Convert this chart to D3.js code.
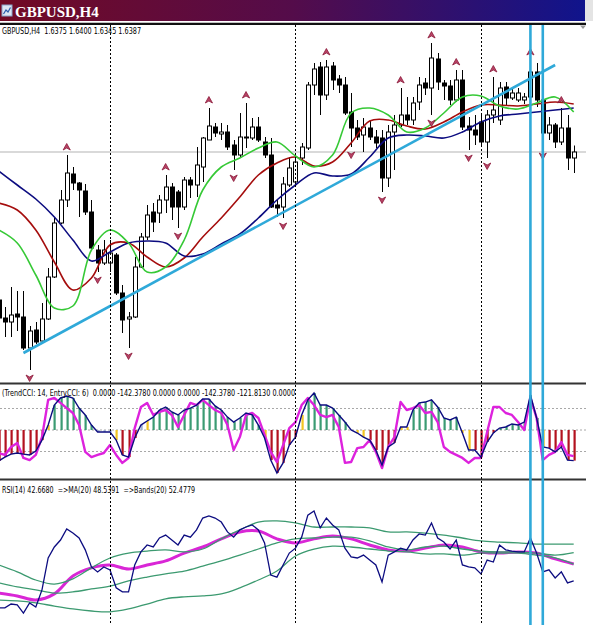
<!DOCTYPE html>
<html>
<head>
<meta charset="utf-8">
<script src="https://cdn.jsdelivr.net/npm/d3@7"></script>
<style>
  body { margin: 0; background: #fff; }
  svg { display: block; }
  text { white-space: pre; }
</style>
</head>
<body>
<svg id="chart"></svg>
<script>
const W = 593, H = 625;

// ---- candles (GBPUSD H4) ----
const openP  = [1.6091,1.6055,1.6047,1.6063,1.6057,1.5995,1.6031,1.6009,1.6053,1.6137,1.6245,1.6291,1.6343,1.6325,1.6309,1.6267,1.6191,1.6165,1.6165,1.6181,1.6105,1.6053,1.6057,1.6157,1.6217,1.6267,1.6265,1.6291,1.6317,1.6307,1.6277,1.6331,1.6321,1.6357,1.6411,1.6437,1.6423,1.6427,1.6401,1.6381,1.6415,1.6415,1.6437,1.6407,1.6381,1.6281,1.6277,1.6321,1.6327,1.6375,1.6395,1.6521,1.6557,1.6501,1.6559,1.6533,1.6521,1.6467,1.6435,1.6421,1.6435,1.6417,1.6415,1.6335,1.6427,1.6441,1.6461,1.6451,1.6487,1.6525,1.6515,1.6573,1.6525,1.6519,1.6491,1.6531,1.6439,1.6431,1.6447,1.6407,1.6461,1.6451,1.6517,1.6495,1.6491,1.6491,1.6497,1.6547,1.6491,1.6425,1.6441,1.6407,1.6435,1.6375];
const highP  = [1.6101,1.6077,1.6117,1.6109,1.6109,1.6039,1.6047,1.6085,1.6155,1.6255,1.6311,1.6381,1.6357,1.6327,1.6323,1.6291,1.6201,1.6211,1.6211,1.6185,1.6121,1.6067,1.6177,1.6225,1.6281,1.6285,1.6301,1.6341,1.6325,1.6311,1.6337,1.6337,1.6397,1.6417,1.6475,1.6445,1.6445,1.6441,1.6411,1.6465,1.6485,1.6455,1.6457,1.6417,1.6415,1.6291,1.6337,1.6377,1.6381,1.6405,1.6527,1.6565,1.6567,1.6571,1.6567,1.6541,1.6537,1.6505,1.6451,1.6455,1.6451,1.6431,1.6431,1.6441,1.6461,1.6515,1.6497,1.6497,1.6537,1.6535,1.6605,1.6585,1.6531,1.6531,1.6551,1.6551,1.6457,1.6461,1.6461,1.6471,1.6537,1.6527,1.6527,1.6515,1.6515,1.6505,1.6571,1.6565,1.6495,1.6457,1.6445,1.6475,1.6461,1.6400];
const lowP   = [1.6037,1.6017,1.6017,1.6029,1.5991,1.5951,1.6003,1.6007,1.6051,1.6135,1.6243,1.6277,1.6311,1.6257,1.6261,1.6191,1.6147,1.6161,1.6147,1.6101,1.6025,1.5995,1.6055,1.6155,1.6211,1.6227,1.6245,1.6265,1.6251,1.6235,1.6271,1.6295,1.6297,1.6327,1.6411,1.6417,1.6411,1.6391,1.6351,1.6375,1.6395,1.6411,1.6407,1.6375,1.6275,1.6257,1.6255,1.6317,1.6321,1.6361,1.6391,1.6501,1.6461,1.6491,1.6511,1.6505,1.6461,1.6397,1.6411,1.6387,1.6411,1.6395,1.6307,1.6317,1.6351,1.6437,1.6441,1.6441,1.6471,1.6501,1.6461,1.6511,1.6491,1.6481,1.6487,1.6431,1.6391,1.6401,1.6401,1.6375,1.6445,1.6441,1.6481,1.6491,1.6487,1.6483,1.6491,1.6477,1.6395,1.6411,1.6395,1.6401,1.6351,1.6345];
const closeP = [1.6055,1.6047,1.6061,1.6057,1.5995,1.6029,1.6007,1.6053,1.6137,1.6245,1.6291,1.6345,1.6325,1.6311,1.6267,1.6195,1.6165,1.6191,1.6185,1.6105,1.6051,1.6057,1.6157,1.6217,1.6261,1.6247,1.6291,1.6317,1.6277,1.6277,1.6331,1.6321,1.6361,1.6415,1.6439,1.6425,1.6427,1.6397,1.6381,1.6417,1.6417,1.6437,1.6411,1.6381,1.6277,1.6275,1.6323,1.6355,1.6367,1.6397,1.6521,1.6553,1.6501,1.6557,1.6531,1.6521,1.6465,1.6435,1.6417,1.6437,1.6417,1.6405,1.6335,1.6427,1.6441,1.6461,1.6451,1.6485,1.6521,1.6515,1.6575,1.6527,1.6519,1.6491,1.6531,1.6437,1.6431,1.6421,1.6407,1.6461,1.6471,1.6515,1.6495,1.6505,1.6505,1.6497,1.6547,1.6491,1.6425,1.6441,1.6407,1.6435,1.6375,1.6387];

const bidPrice = 1.6387;

// fractal bars
const fractalUp   = [11, 27, 34, 40, 53, 65, 70, 74, 80, 86, 91];
const fractalDown = [5, 16, 21, 29, 38, 46, 57, 62, 70, 76, 79, 88];

// moving averages, sampled every 3 bars
const maIdx   = [0,3,6,9,12,15,18,21,24,27,30,33,36,39,42,45,48,51,54,57,60,63,66,69,72,75,78,81,84,87,90,93];
const maGreen = [1.6231,1.6205,1.6141,1.6075,1.6079,1.6191,1.6231,1.6205,1.6147,1.6157,1.6211,1.6311,1.6357,1.6375,1.6395,1.6407,1.6379,1.6357,1.6381,1.6465,1.6475,1.6461,1.6427,1.6435,1.6465,1.6497,1.6499,1.6479,1.6473,1.6485,1.6497,1.6467];
const maRed   = [1.6285,1.6271,1.6231,1.6167,1.6111,1.6135,1.6201,1.6205,1.6177,1.6157,1.6175,1.6217,1.6255,1.6297,1.6341,1.6365,1.6377,1.6359,1.6367,1.6405,1.6449,1.6451,1.6439,1.6433,1.6447,1.6467,1.6481,1.6481,1.6479,1.6483,1.6487,1.6483];
const maNavy  = [1.6349,1.6321,1.6293,1.6257,1.6211,1.6169,1.6187,1.6205,1.6209,1.6205,1.6179,1.6183,1.6203,1.6223,1.6255,1.6291,1.6321,1.6345,1.6339,1.6343,1.6377,1.6415,1.6421,1.6419,1.6415,1.6427,1.6447,1.6459,1.6463,1.6467,1.6471,1.6475];

// drawn objects
const trendLine = [[4, 1.5985], [90, 1.6561]];
const vLines = [86, 88];
const separators = [18, 48, 78];

// CCI panel
const trendCci = [-144,-126,-112,-107,-112,-116,-98,-47,23,116,149,158,149,102,70,23,-9,-9,-9,-47,-116,-126,-37,23,42,60,93,107,84,70,93,102,116,144,144,112,93,60,37,56,79,70,23,-37,-140,-200,-153,-70,-33,70,140,172,116,116,102,70,37,0,-14,-33,-47,-93,-163,-79,-60,14,14,93,126,130,140,107,56,47,60,-14,-93,-93,-126,-56,-14,9,14,28,23,37,163,56,-79,-84,-102,-79,-140,-142.378];
const entryCci = [-107,-116,-79,-60,-130,-140,-116,-33,140,149,126,102,79,23,-102,-126,-116,-107,-70,-116,-153,-130,9,107,126,70,84,93,70,14,70,126,116,140,116,93,79,23,-93,-33,70,79,56,-23,-102,-149,-70,9,37,116,149,116,70,60,70,14,-153,-149,-84,-79,-47,-102,-177,-79,-33,130,93,102,116,79,84,37,-79,-102,-116,-130,-153,-130,-130,-9,107,107,79,70,37,0,149,56,-140,-116,-102,-56,-116,-121.813];
// histogram colour runs: r = down, g = up, y = turning, b = flat
const histRuns = [["r",8],["y",1],["g",7],["b",3],["y",1],["r",3],["b",1],["y",1],["g",18],["y",1],["r",5],["y",1],["g",7],["b",1],["y",2],["r",5],["y",2],["g",8],["y",2],["r",4],["g",7],["y",1],["r",5]];
const cciLevels = [100, 0, -100];

// RSI panel
const rsi = [33.4,33.4,34.7,34.4,31.6,35.1,33.7,39.6,50.6,54.4,56.8,60.6,59.2,57.5,53.4,47.5,45.8,47.5,46.5,40.3,38.9,38.9,48.2,52.7,55.1,54.4,57.5,58.5,56.8,55.1,58.5,57.8,60.3,64.4,65.1,64.4,63.0,59.6,57.8,60.3,61.3,62.0,60.3,55.8,44.7,44.0,48.2,52.3,54.0,57.8,65.4,66.8,61.0,64.4,62.0,60.3,54.0,51.0,50.6,51.6,49.9,48.2,42.3,51.6,52.7,54.0,53.4,56.8,58.9,58.5,62.7,57.5,56.1,53.7,56.8,48.2,47.5,47.2,45.1,49.9,49.2,55.1,53.4,53.0,52.7,52.7,57.5,52.3,45.8,46.5,43.7,45.8,42.0,42.668];
const rsiMa     = [38.5,37.5,36.1,38.2,44.4,47.2,48.2,46.8,48.2,49.6,52.3,54.4,57.2,59.6,59.9,57.2,55.8,57.2,58.2,57.2,55.1,53.4,53.0,54.0,55.1,54.4,52.7,52.3,52.7,52.3,50.3,48.539];
const bandUpper = [48.2,45.8,43.0,41.6,43.4,47.2,50.6,52.3,53.0,53.4,52.7,53.7,57.2,60.3,63.0,63.4,62.7,61.3,61.3,61.3,61.0,59.6,59.6,59.2,58.5,57.5,56.5,56.1,55.8,55.4,55.4,55.4];
const bandMid   = [42.0,40.6,39.6,38.5,38.9,39.9,40.9,42.7,44.0,45.1,46.1,47.8,49.6,51.6,53.7,55.8,57.2,57.5,57.8,57.8,56.5,54.4,53.4,54.4,54.7,53.7,53.0,52.7,52.7,52.3,51.6,52.478];
const bandLower = [36.1,35.8,35.1,34.0,33.0,32.3,32.0,33.0,34.7,36.5,37.2,37.5,38.2,40.3,43.0,46.1,51.3,53.7,54.7,54.4,53.7,53.0,52.7,52.0,52.0,51.6,52.3,52.3,52.3,51.6,50.6,48.5];

// labels
const titleText = "GBPUSD,H4";
const mainLabel = "GBPUSD,H4  1.6375 1.6400 1.6345 1.6387";
const cciLabel  = "(TrendCCI: 14, EntryCCI: 6)  0.0000 -142.3780 0.0000 0.0000 -142.3780 -121.8130 0.0000";
const rsiLabel  = "RSI(14) 42.6680  =>MA(20) 48.5391  =>Bands(20) 52.4779";

// ---- layout ----
const right = 586;
const panels = {
  main: { top: 25, bottom: 382 },
  cci:  { top: 385, bottom: 477 },
  rsi:  { top: 481, bottom: 625 }
};
const histColor = { r: "#b3121f", g: "#3b9b73", y: "#f2c523", b: "#9fb0d2" };
const cyan = "#2fa9d9";

const nBars = openP.length;
const x = d3.scaleLinear().domain([0, nBars - 1]).range([-1.3, 573.7]);
const yP = d3.scaleLinear().domain([1.5927, 1.6641]).range([382, 25]);
const yC = d3.scaleLinear().domain([-200, 200]).range([473, 387]);
const yR = d3.scaleLinear().domain([28.5, 72]).range([622, 496]);

const svg = d3.select("#chart").attr("width", W).attr("height", H)
  .style("font-family", "Tahoma, 'DejaVu Sans', sans-serif");
const defs = svg.append("defs");

svg.append("rect").attr("width", W).attr("height", H).attr("fill", "#fff");

// title bar
const grad = defs.append("linearGradient").attr("id", "titleGrad");
grad.append("stop").attr("offset", "0%").attr("stop-color", "#720a24");
grad.append("stop").attr("offset", "50%").attr("stop-color", "#540c4a");
grad.append("stop").attr("offset", "100%").attr("stop-color", "#10148c");
svg.append("rect").attr("x", 0).attr("y", 0).attr("width", right - 1).attr("height", 21)
  .attr("fill", "url(#titleGrad)");
svg.append("rect").attr("x", right - 1).attr("y", 0).attr("width", W - right + 1).attr("height", 21)
  .attr("fill", "#e4e4e4");
// little window icon
const icon = svg.append("g").attr("transform", "translate(2,5)");
icon.append("rect").attr("width", 10).attr("height", 11).attr("fill", "#dce6f2").attr("stroke", "#8aa4c8");
icon.append("polyline").attr("points", "1.5,9 4,5 6,7 8.5,2.5").attr("fill", "none")
  .attr("stroke", "#2a5caa").attr("stroke-width", 1.2);
svg.append("text").attr("x", 15).attr("y", 16.5).text(titleText)
  .attr("fill", "#fff").attr("font-family", "'Liberation Serif', serif")
  .attr("font-weight", "bold").attr("font-size", 15);

svg.append("line").attr("x1", 0).attr("x2", right).attr("y1", 23.8).attr("y2", 23.8)
  .attr("stroke", "#111").attr("stroke-width", 2.2);

// clip paths
Object.entries(panels).forEach(([k, p]) => {
  defs.append("clipPath").attr("id", "clip-" + k)
    .append("rect").attr("x", 0).attr("y", p.top).attr("width", right).attr("height", p.bottom - p.top);
});
const gMain = svg.append("g").attr("clip-path", "url(#clip-main)");
const gCci = svg.append("g").attr("clip-path", "url(#clip-cci)");
const gRsi = svg.append("g").attr("clip-path", "url(#clip-rsi)");

// panel separators
[383.5, 479.5].forEach(yy => {
  svg.append("line").attr("x1", 0).attr("x2", right).attr("y1", yy).attr("y2", yy)
    .attr("stroke", "#333").attr("stroke-width", 2);
});

// bid line
gMain.append("line").attr("x1", 0).attr("x2", right).attr("y1", yP(bidPrice)).attr("y2", yP(bidPrice))
  .attr("stroke", "#cdcdcd").attr("stroke-width", 1.5);

// weekly separators (all panels)
svg.append("g").selectAll("line").data(separators).join("line")
  .attr("x1", d => Math.round(x(d)) + 0.5).attr("x2", d => Math.round(x(d)) + 0.5)
  .attr("y1", 25).attr("y2", H)
  .attr("stroke", "#000").attr("stroke-width", 1).attr("stroke-dasharray", "2,2");

// candles
const idx = d3.range(nBars);
const px = i => Math.round(x(i)) + 0.5;
gMain.append("g").selectAll("line").data(idx).join("line")
  .attr("x1", px).attr("x2", px)
  .attr("y1", i => yP(highP[i])).attr("y2", i => yP(lowP[i]))
  .attr("stroke", "#000").attr("stroke-width", 1);
gMain.append("g").selectAll("rect").data(idx).join("rect")
  .attr("x", i => px(i) - 2).attr("width", 4)
  .attr("y", i => yP(Math.max(openP[i], closeP[i])))
  .attr("height", i => Math.max(1, Math.abs(yP(openP[i]) - yP(closeP[i]))))
  .attr("fill", i => closeP[i] >= openP[i] ? "#fff" : "#000")
  .attr("stroke", "#000").attr("stroke-width", 1);

// moving averages
const maLine = d3.line().x(d => x(d[0])).y(d => yP(d[1])).curve(d3.curveCatmullRom);
[[maRed, "#a50d0d"], [maNavy, "#0c0c80"], [maGreen, "#36c936"]].forEach(([vals, col]) => {
  gMain.append("path").datum(maIdx.map((d, k) => [d, vals[k]]))
    .attr("d", maLine).attr("fill", "none").attr("stroke", col).attr("stroke-width", 1.6);
});

// fractals
const upArrow = "M0,-3.5 L3.6,3 L0,1 L-3.6,3 Z";
const downArrow = "M0,3.5 L3.6,-3 L0,-1 L-3.6,-3 Z";
gMain.append("g").selectAll("path").data(fractalUp).join("path")
  .attr("d", upArrow)
  .attr("transform", i => `translate(${x(i)},${yP(highP[i]) - 8})`)
  .attr("fill", "#b84466").attr("stroke", "#8a1838").attr("stroke-width", 0.8);
gMain.append("g").selectAll("path").data(fractalDown).join("path")
  .attr("d", downArrow)
  .attr("transform", i => `translate(${x(i)},${yP(lowP[i]) + 8})`)
  .attr("fill", "#b84466").attr("stroke", "#8a1838").attr("stroke-width", 0.8);

// trend line
gMain.append("line")
  .attr("x1", x(trendLine[0][0])).attr("y1", yP(trendLine[0][1]))
  .attr("x2", x(trendLine[1][0])).attr("y2", yP(trendLine[1][1]))
  .attr("stroke", cyan).attr("stroke-width", 2.6);

svg.append("path").attr("d", `M${right - 6},25.5 L${right},25.5 L${right - 3},29 Z`).attr("fill", "#9a9a9a");

// CCI panel
gCci.selectAll("line.lvl").data(cciLevels).join("line").attr("class", "lvl")
  .attr("x1", 0).attr("x2", right).attr("y1", d => yC(d)).attr("y2", d => yC(d))
  .attr("stroke", "#a8a8a8").attr("stroke-width", 1).attr("stroke-dasharray", "2,2");
const histCodes = histRuns.flatMap(([c, n]) => Array(n).fill(c));
gCci.append("g").selectAll("rect").data(idx).join("rect")
  .attr("x", i => px(i) - 1).attr("width", 2.2)
  .attr("y", i => Math.min(yC(0), yC(trendCci[i])))
  .attr("height", i => Math.abs(yC(trendCci[i]) - yC(0)))
  .attr("fill", i => histColor[histCodes[i]]);
const cciLine = d3.line().x((d, i) => x(i)).y(d => yC(d));
gCci.append("path").datum(entryCci).attr("d", cciLine)
  .attr("fill", "none").attr("stroke", "#dd22dd").attr("stroke-width", 2.4).attr("stroke-linejoin", "round");
gCci.append("path").datum(trendCci).attr("d", cciLine)
  .attr("fill", "none").attr("stroke", "#0c0c80").attr("stroke-width", 1.4);

// RSI panel
const bandLine = d3.line().x(d => x(d[0])).y(d => yR(d[1])).curve(d3.curveCatmullRom);
gRsi.append("path").datum(maIdx.map((d, k) => [d, rsiMa[k]])).attr("d", bandLine)
  .attr("fill", "none").attr("stroke", "#d926d6").attr("stroke-width", 3);
[bandUpper, bandMid, bandLower].forEach(vals => {
  gRsi.append("path").datum(maIdx.map((d, k) => [d, vals[k]])).attr("d", bandLine)
    .attr("fill", "none").attr("stroke", "#3c9a70").attr("stroke-width", 1.3);
});
gRsi.append("path").datum(rsi).attr("d", d3.line().x((d, i) => x(i)).y(d => yR(d)))
  .attr("fill", "none").attr("stroke", "#0c0c80").attr("stroke-width", 1.3);

// vertical lines across all panels
svg.append("g").selectAll("line").data(vLines).join("line")
  .attr("x1", d => x(d)).attr("x2", d => x(d)).attr("y1", 25).attr("y2", H)
  .attr("stroke", cyan).attr("stroke-width", 2.6);

// panel labels
const labels = [[mainLabel, 34, 139], [cciLabel, 395.5, 293], [rsiLabel, 492.5, 193]];
svg.append("g").selectAll("text").data(labels).join("text")
  .attr("x", 2).attr("y", d => d[1]).text(d => d[0])
  .attr("font-size", 9).attr("fill", "#000")
  .attr("textLength", d => d[2]).attr("lengthAdjust", "spacingAndGlyphs");
</script>
</body>
</html>
